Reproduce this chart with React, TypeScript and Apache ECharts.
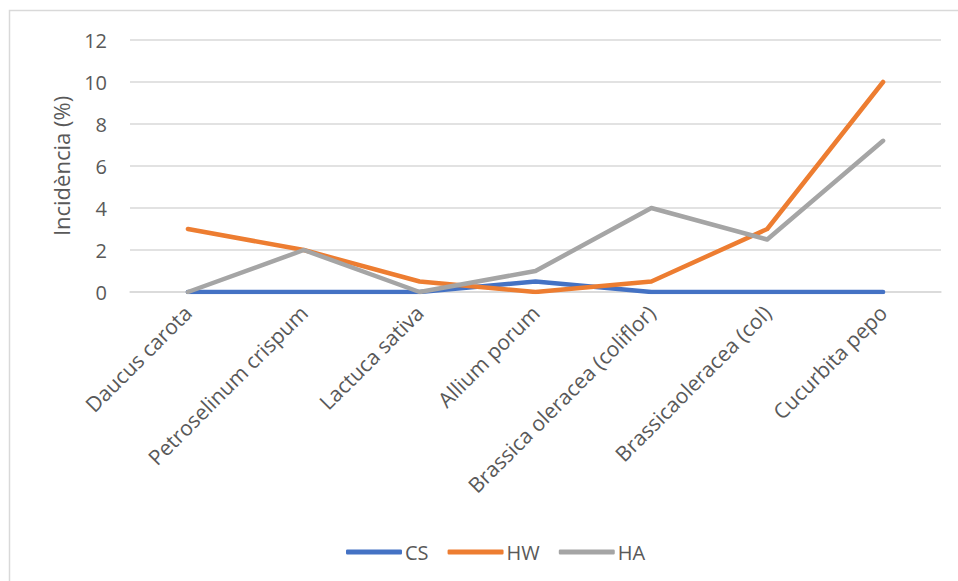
import React, { useEffect, useRef } from "react";
import * as echarts from "echarts";

const categories = [
  "Daucus carota",
  "Petroselinum crispum",
  "Lactuca sativa",
  "Allium porum",
  "Brassica oleracea (coliflor)",
  "Brassicaoleracea (col)",
  "Cucurbita pepo",
];
const csValues = [0, 0, 0, 0.5, 0, 0, 0];
const hwValues = [3, 2, 0.5, 0, 0.5, 3, 10];
const haValues = [0, 2, 0, 1, 4, 2.5, 7.2];
const yTicks = { min: 0, max: 12, interval: 2 };

const FONT = "'Open Sans', sans-serif";
const TEXT = "#595959";

export default function App() {
  const ref = useRef<HTMLDivElement>(null);

  useEffect(() => {
    if (!ref.current) return;
    const chart = echarts.init(ref.current, undefined, { renderer: "svg" });
    const mkSeries = (name: string, data: number[], color: string) => ({
      name,
      type: "line",
      data,
      showSymbol: false,
      symbol: "none",
      color,
      lineStyle: { width: 4.5, color, cap: "round", join: "round" },
    });
    chart.setOption({
      animation: false,
      backgroundColor: "#ffffff",
      textStyle: { fontFamily: FONT },
      graphic: [
        {
          type: "rect",
          shape: { x: 9.5, y: 10.5, width: 1000, height: 1000 },
          style: { fill: "none", stroke: "#D9D9D9", lineWidth: 1.5 },
          silent: true,
        },
      ],
      grid: { left: 130, right: 17, top: 40, bottom: 289 },
      legend: {
        left: 341,
        top: 537,
        icon: "roundRect",
        itemWidth: 56,
        itemHeight: 5,
        itemGap: 19,
        textStyle: { color: TEXT, fontSize: 20, fontFamily: FONT, padding: [0, 0, 0, -2] },
        data: ["CS", "HW", "HA"],
      },
      xAxis: {
        type: "category",
        data: categories,
        boundaryGap: true,
        axisLine: { show: true, lineStyle: { color: "#D9D9D9", width: 1.5 } },
        axisTick: { show: false },
        splitLine: { show: false },
        axisLabel: {
          rotate: 45,
          interval: 0,
          margin: 17,
          color: TEXT,
          fontSize: 21,
          fontFamily: FONT,
        },
      },
      yAxis: {
        type: "value",
        min: yTicks.min,
        max: yTicks.max,
        interval: yTicks.interval,
        name: "Incidència (%)",
        nameLocation: "middle",
        nameGap: 58,
        nameTextStyle: { color: TEXT, fontSize: 22, fontFamily: FONT },
        axisLine: { show: false },
        axisTick: { show: false },
        splitLine: { lineStyle: { color: "#D9D9D9", width: 1.5 } },
        axisLabel: { color: TEXT, fontSize: 20, margin: 23, fontFamily: FONT },
      },
      series: [
        mkSeries("CS", csValues, "#4472C4"),
        mkSeries("HW", hwValues, "#ED7D31"),
        mkSeries("HA", haValues, "#A5A5A5"),
      ],
    });
    return () => chart.dispose();
  }, []);

  return (
    <div
      ref={ref}
      style={{ position: "absolute", left: 0, top: 0, width: 958, height: 581 }}
    />
  );
}
